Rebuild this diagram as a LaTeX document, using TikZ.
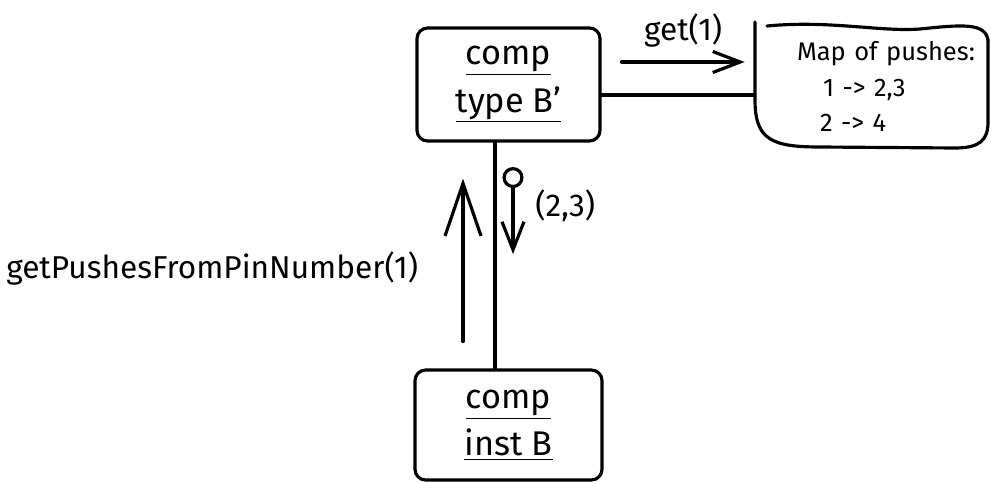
\documentclass[tikz,border=0pt]{standalone}
\usepackage{fontspec}
\setmainfont{Fira Sans}
\usetikzlibrary{arrows.meta,positioning}
\tikzset{
  sketch/.style={line width=1.8pt, line cap=round, line join=round},
  compbox/.style={sketch, draw, rounded corners=6pt, align=center, inner sep=0pt, font=\fontsize{19.5}{27}\selectfont},
  lbl/.style={font=\fontsize{18}{20}\selectfont},
}
\begin{document}
\begin{tikzpicture}[x=0.02cm, y=-0.02cm]
    \useasboundingbox (0,0) rectangle (991,483);
    \node[compbox, minimum width=3.66cm, minimum height=2.26cm] (typeB) at (508.5,84.5) {\underline{comp}\\\underline{type B'}};
    \node[compbox, minimum width=3.74cm, minimum height=2.2cm] (instB) at (508.5,425) {\underline{comp}\\\underline{inst B}};
    \node[text width=4.66cm, minimum height=2.46cm, inner sep=0pt, align=left, font=\fontsize{14.5}{20}\selectfont] (map) at (871.5,86.5)
        {\hspace*{0.84cm}Map of pushes:\\\hspace*{1.36cm}1 -> 2,3\\\hspace*{1.3cm}2 -> 4};
    % outline of the map
    \draw[sketch] (755,22) -- (755,100) .. controls (755,140) and (772,147) .. (820,147)
        -- (955,148) .. controls (980,148) and (988,140) .. (988,122) -- (988,40);
    \draw[sketch] (767,26) .. controls (830,20) and (880,32) .. (920,29) .. controls (960,25) and (985,22) .. (988,40);
    % calls
    \draw[sketch, -{Straight Barb[length=0.55cm, width=0.42cm]}] ([xshift=0.4cm, yshift=0.45cm]typeB.east) -- ([xshift=-0.2cm, yshift=0.45cm]typeB.east -| map.west)
        node[lbl, midway, above=0.15cm] {get(1)};
    \draw[sketch] ([yshift=-0.21cm]typeB.east) -- ([yshift=-0.21cm]typeB.east -| map.west);
    \draw[sketch] ([xshift=-0.27cm]typeB.south) -- ([xshift=-0.27cm]typeB.south |- instB.north);
    \draw[sketch, -{Straight Barb[length=1.05cm, width=0.72cm]}] ([xshift=-0.91cm, yshift=0.54cm]instB.north) -- ([xshift=-0.91cm, yshift=-0.72cm]typeB.south)
        node[lbl, pos=0.45, left=0.75cm] {getPushesFromPinNumber(1)};
    \draw[sketch, {Circle[open, length=0.42cm]}-{Straight Barb[length=0.56cm, width=0.44cm]}] ([xshift=0.09cm, yshift=-0.49cm]typeB.south) -- ([xshift=0.09cm, yshift=-2.23cm]typeB.south)
        node[lbl, pos=0.45, right=0.3cm] {(2,3)};
\end{tikzpicture}
\end{document}
